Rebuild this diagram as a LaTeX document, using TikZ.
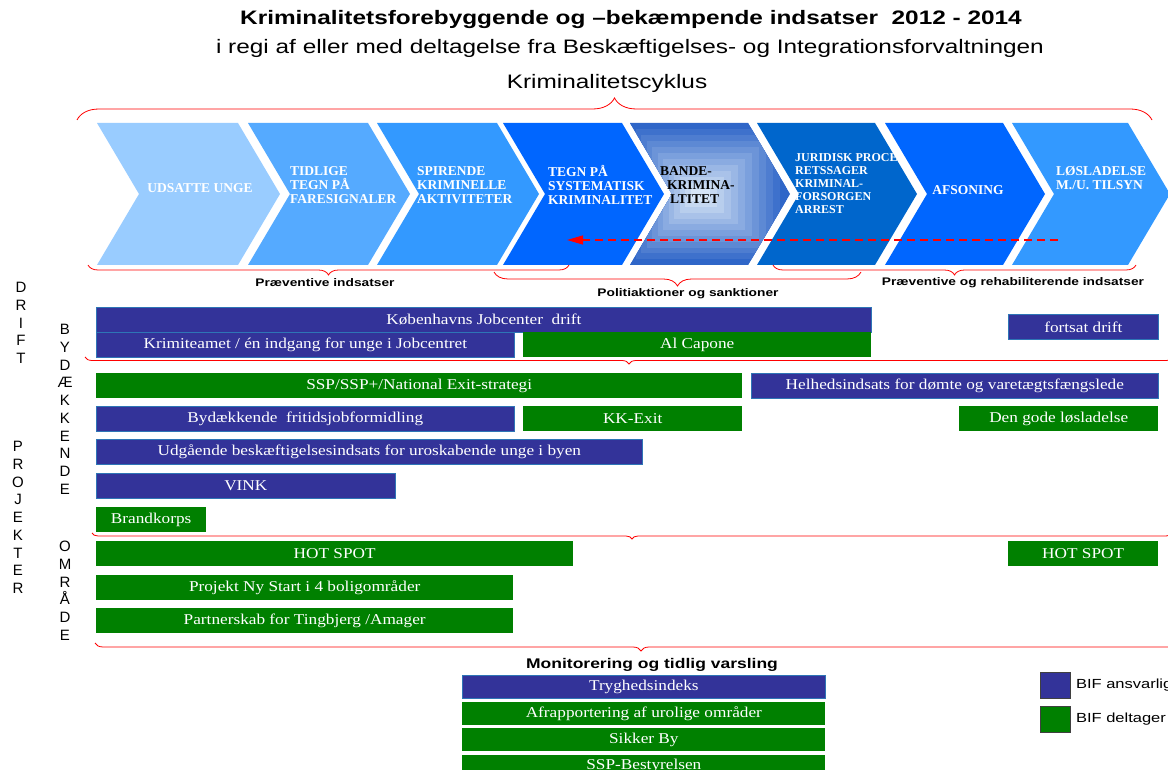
\documentclass[tikz,border=0pt]{standalone}
\usepackage{fontspec}
\setmainfont{Liberation Serif}
\setsansfont{Liberation Sans}[FakeStretch=1.25]
\newfontfamily\barfont{Liberation Serif}[FakeStretch=1.15]
\newfontfamily\sidefont{Liberation Sans}
\usetikzlibrary{arrows.meta}
\usetikzlibrary{decorations.pathreplacing}
\usetikzlibrary{positioning}

\definecolor{cycA}{HTML}{99CCFF}
\definecolor{cycB}{HTML}{55AAFF}
\definecolor{cycC}{HTML}{3399FF}
\definecolor{cycD}{HTML}{0066FF}
\definecolor{cycF}{HTML}{0066CC}
\definecolor{bandeouter}{HTML}{2F66C8}
\definecolor{bandeinner}{HTML}{D8E6F6}
\definecolor{bifblue}{HTML}{333399}
\definecolor{bifedge}{HTML}{2E75B6}
\definecolor{bifgreen}{HTML}{008000}

\tikzset{
	bar/.style={anchor=north west, inner sep=0pt, minimum height=25, text=white,
		font=\barfont\fontsize{15}{17}\selectfont},
	ansvar/.style={bar, fill=bifblue, draw=bifedge, line width=0.7},
	deltag/.style={bar, fill=bifgreen},
	cyctxt/.style={anchor=west, align=left, inner sep=0pt, text=white,
		font=\bfseries\fontsize{13.5}{14}\selectfont},
	sidelbl/.style={anchor=north, align=center, inner sep=0pt,
		font=\sidefont\fontsize{15}{17.75}\selectfont},
	bracelbl/.style={font=\sffamily\bfseries\fontsize{11}{13}\selectfont},
	upbrace/.style={draw=red, line width=0.8, decorate, decoration={brace, amplitude=#1}},
	downbrace/.style={draw=red, line width=0.8, decorate, decoration={brace, mirror, amplitude=#1}},
	legbox/.style={anchor=north west, draw=black!75, line width=0.8, inner sep=0pt,
		minimum width=30, minimum height=26},
	legtxt/.style={inner sep=0pt, font=\sffamily\fontsize{13.2}{16}\selectfont},
}

\begin{document}
\begin{tikzpicture}[x=1pt, y=-1pt, >={Triangle[length=16pt,width=9pt]}]
	\useasboundingbox[fill=white] (0,0) rectangle (1168,770);

	% headings
	\node[font=\sffamily\bfseries\fontsize{19.5}{22}\selectfont] (title) at (631,20)
		{Kriminalitetsforebyggende og –bekæmpende indsatser\ \ 2012 - 2014};
	\node[font=\sffamily\fontsize{19.5}{22}\selectfont] (subtitle) at (630,48)
		{i regi af eller med deltagelse fra Beskæftigelses- og Integrationsforvaltningen};
	\node[font=\sffamily\fontsize{19.5}{22}\selectfont] (cyklus) at (607,83) {Kriminalitetscyklus};
	\draw[upbrace=22] (77,120) -- (1152,120);

	% the cycle
	\foreach \l/\r/\c in {97/238/cycA, 248/368/cycB, 377/497/cycC, 503/622/cycD,
		630/748/bandeouter, 757/875/cycF, 885/1003/cycD, 1012/1128/cycC}{
		\fill[\c] (\l,123) -- (\r,123) -- ({\r+42},194) -- (\r,265) -- (\l,265) -- ({\l+42},194) -- cycle;
	}
	\begin{scope}
		\clip (630,123) -- (748,123) -- (790,194) -- (748,265) -- (630,265) -- (672,194) -- cycle;
		\foreach \k [evaluate={\p=int(\k*9)}] in {0,...,11}{
			\fill[bandeinner!\p!bandeouter] ({630+5.5*\k},{123+6*\k}) rectangle ({787-7*\k},{265-5.8*\k});
		}
	\end{scope}

	\node[cyctxt, anchor=center] (udsatte) at (200,188) {UDSATTE UNGE};
	\node[cyctxt] (tidlige) at (290,185) {TIDLIGE\\TEGN PÅ\\FARESIGNALER};
	\node[cyctxt] (spirende) at (417,185) {SPIRENDE\\KRIMINELLE\\AKTIVITETER};
	\node[cyctxt] (systematisk) at (548,185) {TEGN PÅ\\SYSTEMATISK\\KRIMINALITET};
	\node[cyctxt, text=black] (bande) at (660,185) {BANDE-\\\hspace*{7pt}KRIMINA-\\\hspace*{10pt}LTITET};
	\begin{scope}
		\clip (740,123) -- (875,123) -- (917,194) -- (875,265) -- (740,265) -- cycle;
		\node[cyctxt, font=\bfseries\fontsize{12}{13}\selectfont] (juridisk) at (795,184)
			{JURIDISK PROCES\\RETSSAGER\\KRIMINAL-\\FORSORGEN\\ARREST};
	\end{scope}
	\node[cyctxt, anchor=center] (afsoning) at (968,190) {AFSONING};
	\node[cyctxt] (loesladelse) at (1056,178) {LØSLADELSE\\M./U. TILSYN};

	\coordinate (backstart) at (1058,240);
	\coordinate (backend) at (567,240);
	\draw[->, red, line width=1.2, dash pattern=on 8pt off 5pt] (backstart) -- (backend);

	% phases
	\draw[downbrace=10] (88,265) -- (569,265);
	\draw[downbrace=14] (494,272) -- (861,272);
	\draw[downbrace=10] (773,265) -- (1136,265);
	\node[bracelbl] (praev) at (325,283) {Præventive indsatser};
	\node[bracelbl] (politi) at (688,294) {Politiaktioner og sanktioner};
	\node[bracelbl] (rehab) at (1013,283) {Præventive og rehabiliterende indsatser};

	% side labels
	\node[sidelbl] (drift) at (21,282) {D\\R\\I\\F\\T};
	\node[sidelbl] (bydaek) at (65,324) {B\\Y\\D\\Æ\\K\\K\\E\\N\\D\\E};
	\node[sidelbl] (projekter) at (18,441) {P\\R\\O\\J\\E\\K\\T\\E\\R};
	\node[sidelbl] (omraade) at (65,541) {O\\M\\R\\Å\\D\\E};

	% drift
	\node[ansvar, minimum width=775] (jobcenter) at (96,307) {Københavns Jobcenter\ \ drift};
	\node[ansvar, minimum width=418] (krimiteam) at (96,332) {Krimiteamet / én indgang for unge i Jobcentret};
	\node[deltag, minimum width=348] (capone) at (523,332) {Al Capone};
	\node[ansvar, minimum width=150] (fortsat) at (1008,314) {fortsat drift};
	\draw[downbrace=7] (85,357) -- (1173,357);

	% bydaekkende projekter
	\node[deltag, minimum width=646] (sspexit) at (96,373) {SSP/SSP+/National Exit-strategi};
	\node[ansvar, minimum width=407] (helhed) at (751,373) {Helhedsindsats for dømte og varetægtsfængslede};
	\node[ansvar, minimum width=418] (fritidsjob) at (96,406) {Bydækkende\ \ fritidsjobformidling};
	\node[deltag, minimum width=219] (kkexit) at (523,406) {KK-Exit};
	\node[deltag, minimum width=199] (godeloes) at (959,406) {Den gode løsladelse};
	\node[ansvar, minimum width=546] (udgaaende) at (96,439) {Udgående beskæftigelsesindsats for uroskabende unge i byen};
	\node[ansvar, minimum width=299] (vink) at (96,473) {VINK};
	\node[deltag, minimum width=110] (brandkorps) at (96,507) {Brandkorps};
	\draw[downbrace=6] (92,533) -- (1172,533);

	% omraade projekter
	\node[deltag, minimum width=477] (hotspot) at (96,541) {HOT SPOT};
	\node[deltag, minimum width=150] (hotspotb) at (1008,541) {HOT SPOT};
	\node[deltag, minimum width=417] (nystart) at (96,575) {Projekt Ny Start i 4 boligområder};
	\node[deltag, minimum width=417] (partner) at (96,608) {Partnerskab for Tingbjerg /Amager};
	\draw[downbrace=8] (95,643) -- (1187,643);

	% monitorering
	\node[bracelbl, font=\sffamily\bfseries\fontsize{14}{16}\selectfont] (monitor) at (652,665)
		{Monitorering og tidlig varsling};
	\node[ansvar, minimum width=363, minimum height=23] (tryghed) at (462,675) {Tryghedsindeks};
	\node[deltag, minimum width=363, minimum height=23, below=3pt of tryghed] (afrap) {Afrapportering af urolige områder};
	\node[deltag, minimum width=363, minimum height=23, below=3pt of afrap] (sikker) {Sikker By};
	\node[deltag, minimum width=363, minimum height=23, below=3pt of sikker] (sspbest) {SSP-Bestyrelsen};

	% legend
	\node[legbox, fill=bifblue] (legansv) at (1040,672) {};
	\node[legtxt, right=5pt of legansv] (legansvtxt) {BIF ansvarlig};
	\node[legbox, fill=bifgreen] (legdelt) at (1040,706) {};
	\node[legtxt, right=5pt of legdelt] (legdelttxt) {BIF deltager};
\end{tikzpicture}
\end{document}
